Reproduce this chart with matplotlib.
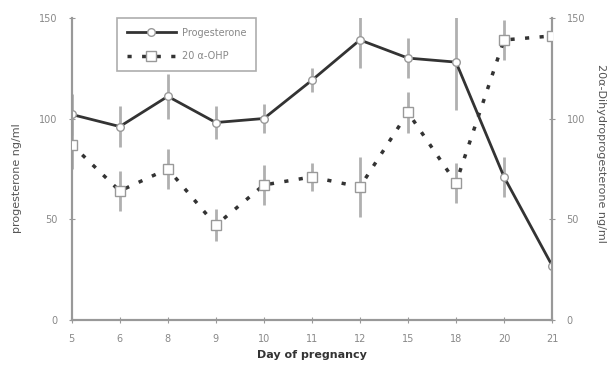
import matplotlib.pyplot as plt

days = ['5', '6', '8', '9', '10', '11', '12', '15', '18', '20', '21']
progesterone = [102, 96, 111, 98, 100, 119, 139, 130, 128, 71, 27]
progesterone_err = [10, 10, 11, 8, 7, 6, 14, 10, 24, 10, 11]
ohp = [87, 64, 75, 47, 67, 71, 66, 103, 68, 139, 141]
ohp_err = [12, 10, 10, 8, 10, 7, 15, 10, 10, 10, 8]

fig = plt.figure(figsize=(6.08, 3.79), dpi=100)
ax = fig.add_axes([0.118, 0.156, 0.79, 0.797])
ax2 = ax.twinx()

x = list(range(len(days)))

ax.errorbar(x, progesterone, yerr=progesterone_err, fmt='none', ecolor='#b0b0b0',
            elinewidth=2, capsize=0, zorder=1)
ax.errorbar(x, ohp, yerr=ohp_err, fmt='none', ecolor='#b0b0b0',
            elinewidth=2, capsize=0, zorder=1)
l1, = ax.plot(x, progesterone, color='#333333', linewidth=2, marker='o',
              markersize=5.5, markerfacecolor='white', markeredgecolor='#999999',
              markeredgewidth=1, zorder=3, label='Progesterone')
l2, = ax2.plot(x, ohp, color='#333333', linewidth=2.5, linestyle=(0, (1.2, 3)),
               marker='s', markersize=7, markerfacecolor='white',
               markeredgecolor='#999999', markeredgewidth=1, zorder=3,
               label='20 α-OHP')

for a in (ax, ax2):
    a.set_ylim(0, 150)
    a.set_yticks([0, 50, 100, 150])
    a.spines['top'].set_visible(False)
    for s in a.spines.values():
        s.set_color('#999999')
        s.set_linewidth(1.5)
    a.tick_params(direction='inout', length=5, colors='#999999',
                  labelcolor='#888888', labelsize=7)
ax.set_xlim(0, len(days) - 1)
ax.set_xticks(x)
ax.set_xticklabels(days)
ax.tick_params(axis='x', pad=8)
ax.tick_params(axis='y', pad=8)
ax2.tick_params(axis='y', pad=8)

ax.set_xlabel('Day of pregnancy', fontsize=8, fontweight='bold', color='#333333')

# axis titles placed by hand so the right one stays inside the figure
ax.text(-0.113, 0.47, 'progesterone ng/ml', transform=ax.transAxes,
        rotation=90, ha='center', va='center', fontsize=8, color='#555555')
ax.text(1.102, 0.55, '20α-Dihydroprogesterone ng/ml', transform=ax.transAxes,
        rotation=270, ha='center', va='center', fontsize=8, color='#555555')

leg = ax.legend(handles=[l1, l2], loc='upper left', bbox_to_anchor=(0.085, 1.015),
                fontsize=7, frameon=True, fancybox=False, handlelength=5,
                labelspacing=1.4, borderpad=1.0, handletextpad=0.6)
leg.get_frame().set_edgecolor('#999999')
leg.get_frame().set_linewidth(1.2)
for t in leg.get_texts():
    t.set_color('#888888')

fig.savefig('out.png', dpi=100)
